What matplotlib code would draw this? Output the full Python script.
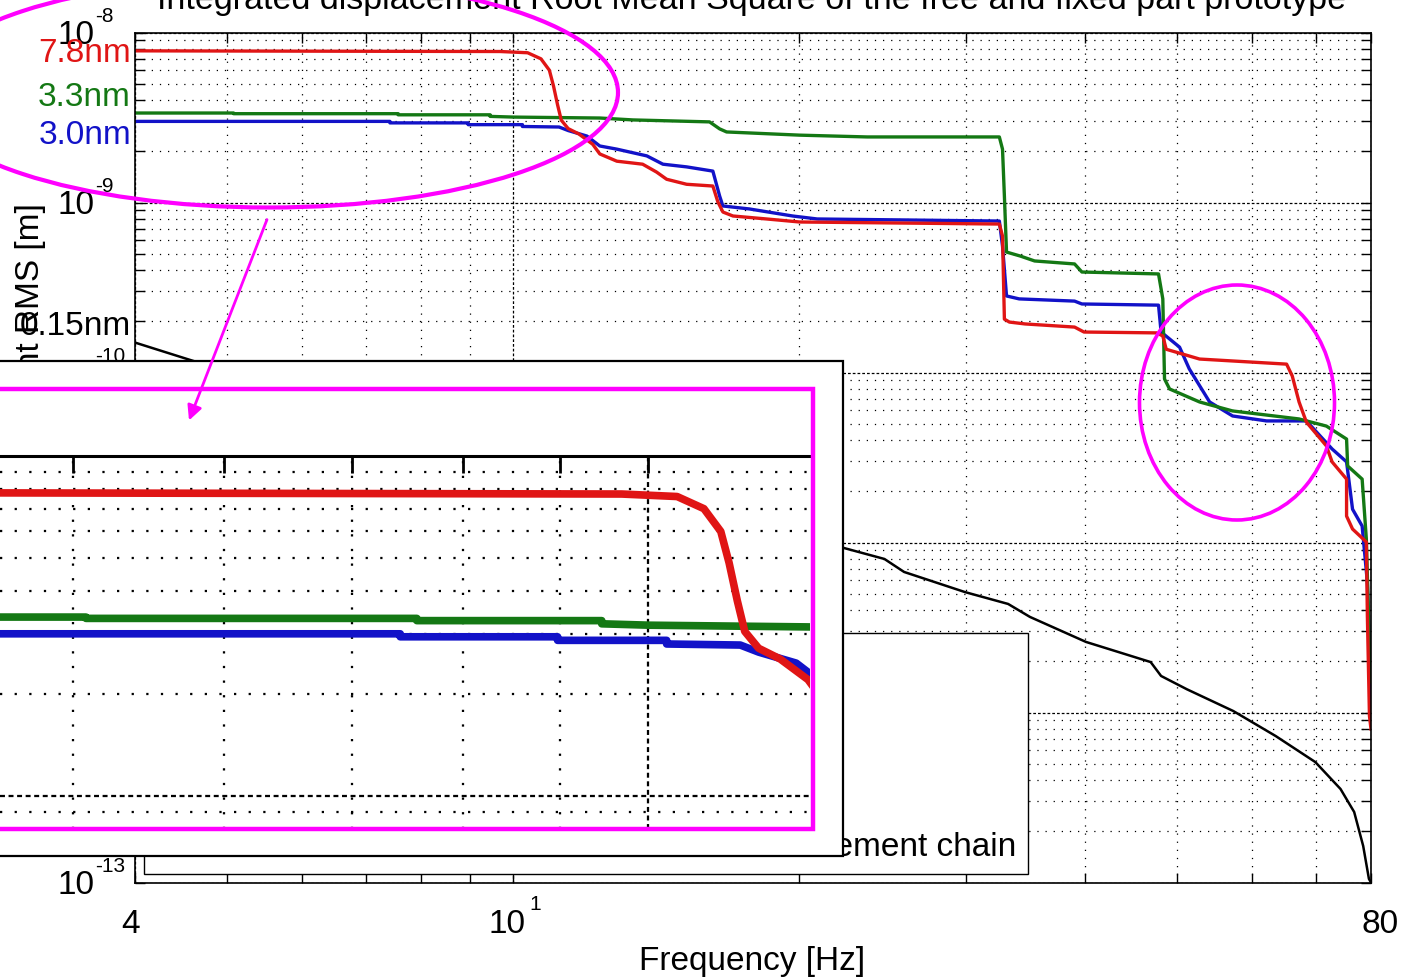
import math
import matplotlib
matplotlib.use('Agg')
import matplotlib.pyplot as plt
from matplotlib.patches import Ellipse, Rectangle, FancyArrowPatch
from matplotlib.ticker import FixedLocator, NullFormatter

plt.rcParams['font.family'] = ['Liberation Sans', 'DejaVu Sans']

W, H = 1409, 979

# integrated RMS curves (frequency in Hz, RMS in m)
red_f = [4.0, 9.69, 10.36, 10.7, 10.92, 11.03, 11.14, 11.24, 11.43, 11.73, 12.13, 12.34,
         12.86, 13.69, 14.16, 14.51, 15.23, 16.23, 16.43, 16.63, 17.04, 18.49, 20.03,
         32.5, 32.75, 32.9, 33.3, 34.6, 39.0, 39.9, 47.6, 48.3, 48.7, 52.8, 65.2, 66.1,
         67.2, 68.4, 71.8, 72.8, 75.4, 75.4, 76.5, 79.1, 79.3, 79.7, 80.0]
red_v = [7.8e-9, 7.73e-9, 7.6e-9, 7.0e-9, 6.0e-9, 4.85e-9, 3.75e-9, 3.05e-9, 2.72e-9, 2.53e-9,
         2.2e-9, 1.93e-9, 1.75e-9, 1.68e-9, 1.51e-9, 1.37e-9, 1.28e-9, 1.25e-9, 1.007e-9,
         8.79e-10, 8.33e-10, 8.0e-10, 7.68e-10, 7.47e-10, 6.35e-10, 2.06e-10, 1.98e-10,
         1.93e-10, 1.85e-10, 1.73e-10, 1.71e-10, 1.64e-10, 1.37e-10, 1.20e-10, 1.12e-10,
         9.54e-11, 6.71e-11, 5.11e-11, 3.70e-11, 2.98e-11, 2.36e-11, 1.43e-11, 1.20e-11,
         1.007e-11, 3.70e-12, 9.54e-13, 8.0e-13]

green_f = [4.0, 5.08, 5.08, 7.57, 7.57, 9.46, 9.46, 10.02, 12.34, 13.37, 16.1, 16.5, 16.78,
           20.03, 23.6, 32.5, 32.75, 32.9, 33.07, 34.2, 35.4, 39.0, 39.7, 47.8, 48.3, 48.5,
           49.1, 52.8, 57.2, 67.2, 71.8, 75.4, 75.6, 78.3, 79.1, 79.7, 80.0]
green_v = [3.36e-9, 3.36e-9, 3.33e-9, 3.33e-9, 3.28e-9, 3.28e-9, 3.21e-9, 3.18e-9, 3.14e-9,
           3.06e-9, 2.98e-9, 2.71e-9, 2.60e-9, 2.49e-9, 2.43e-9, 2.43e-9, 2.06e-9, 1.09e-9,
           5.11e-10, 4.84e-10, 4.53e-10, 4.35e-10, 3.90e-10, 3.80e-10, 2.71e-10, 9.16e-11,
           8.0e-11, 6.71e-11, 5.94e-11, 5.33e-11, 4.84e-11, 4.06e-11, 2.82e-11, 2.36e-11,
           1.05e-11, 2.36e-12, 1.51e-12]

blue_f = [4.0, 7.42, 7.42, 8.97, 8.97, 10.23, 10.23, 11.18, 11.43, 11.96, 12.34, 12.86,
          13.83, 14.38, 15.23, 16.23, 16.5, 16.63, 17.74, 19.69, 20.9, 32.5, 32.75, 33.07,
          34.1, 39.0, 39.7, 47.8, 48.1, 50.3, 51.5, 54.1, 57.2, 62.1, 68.4, 72.8, 75.4,
          76.5, 78.3, 79.3, 79.7, 80.0]
blue_v = [3.0e-9, 3.0e-9, 2.94e-9, 2.94e-9, 2.87e-9, 2.87e-9, 2.80e-9, 2.78e-9, 2.65e-9,
          2.46e-9, 2.15e-9, 2.06e-9, 1.88e-9, 1.68e-9, 1.62e-9, 1.53e-9, 1.09e-9, 9.54e-10,
          9.16e-10, 8.33e-10, 8.0e-10, 7.78e-10, 5.55e-10, 2.82e-10, 2.71e-10, 2.63e-10,
          2.53e-10, 2.49e-10, 1.73e-10, 1.41e-10, 1.05e-10, 6.71e-11, 5.55e-11, 5.19e-11,
          5.19e-11, 3.55e-11, 2.98e-11, 1.57e-11, 1.25e-11, 5.82e-12, 2.36e-12, 9.54e-13]

black_f = [4.0, 4.54, 5.96, 8.58, 12.3, 17.7, 22.1, 24.6, 25.8, 29.9, 33.2, 35.0, 40.1,
           46.9, 48.1, 51.2, 57.3, 63.5, 69.9, 74.3, 76.8, 78.5, 79.6, 80.0]
black_v = [1.5e-10, 1.20e-10, 7.47e-11, 4.06e-11, 2.15e-11, 1.28e-11, 9.41e-12, 8.0e-12,
           6.71e-12, 5.11e-12, 4.35e-12, 3.65e-12, 2.60e-12, 1.98e-12, 1.64e-12, 1.37e-12,
           1.02e-12, 7.27e-13, 5.11e-13, 3.55e-13, 2.60e-13, 1.64e-13, 1.05e-13, 1.0e-13]

legend_labels = ['Free part', 'Fixed part', 'Difference', 'Noise of the measurement chain']
rms_labels = ['7.8nm', '3.3nm', '3.0nm', '0.15nm']
x_major = [4, 10, 80]
x_major_labels = ['4', '10', '80']
x_minor = [5, 6, 7, 8, 9, 20, 30, 40, 50, 60, 70]
y_decades = [1e-13, 1e-12, 1e-11, 1e-10, 1e-9, 1e-8]
y_minor = [m * d for d in y_decades[:-1] for m in range(2, 10)]

RED, GREEN, BLUE = '#e01515', '#147814', '#1212c8'
MAG = '#ff00ff'


def fx(px):
    return px / W


def fy(py):
    return 1 - py / H


def grid_style(a, scale):
    a.grid(True, which='major', color='k', lw=0.9 * scale, ls=(0, (2.2, 1.6)))
    a.grid(True, which='minor', color='k', lw=0.9 * scale, ls=(0, (1.0, 5.5)))


fig = plt.figure(figsize=(W / 100, H / 100), dpi=100)

# ---- main axes
ax = fig.add_axes([fx(135), fy(883.5), (1371 - 135) / W, 850 / H])
ax.set_xscale('log')
ax.set_yscale('log')
ax.set_xlim(4, 80)
ax.set_ylim(1e-13, 1e-8)
l_k, = ax.plot(black_f, black_v, color='k', lw=1.8)
l_b, = ax.plot(blue_f, blue_v, color=BLUE, lw=2.4)
l_g, = ax.plot(green_f, green_v, color=GREEN, lw=2.4)
l_r, = ax.plot(red_f, red_v, color=RED, lw=2.4)

ax.xaxis.set_major_locator(FixedLocator(x_major))
ax.xaxis.set_minor_locator(FixedLocator(x_minor))
ax.yaxis.set_major_locator(FixedLocator(y_decades))
ax.yaxis.set_minor_locator(FixedLocator(y_minor))
for axis in (ax.xaxis, ax.yaxis):
    axis.set_major_formatter(NullFormatter())
    axis.set_minor_formatter(NullFormatter())
ax.tick_params(which='both', direction='in', top=True, right=True, length=7, width=1)
grid_style(ax, 1.0)
for s in ax.spines.values():
    s.set_linewidth(1.2)

# tick labels, matlab style (base and exponent)
for v, txt in zip(x_major, x_major_labels):
    dx = {4: -4, 10: -6, 80: 9}[v]
    ax.annotate(txt, xy=(v, 0), xycoords=('data', 'axes fraction'), xytext=(dx, -50),
                textcoords='offset pixels', ha='center', va='baseline', fontsize=24)
ax.annotate('1', xy=(10, 0), xycoords=('data', 'axes fraction'), xytext=(16, -27),
            textcoords='offset pixels', ha='left', va='baseline', fontsize=15)
for d in y_decades:
    ax.annotate('10', xy=(0, d), xycoords=('axes fraction', 'data'), xytext=(-77, -11),
                textcoords='offset pixels', ha='left', va='baseline', fontsize=24)
    ax.annotate('-%d' % round(-math.log10(d)), xy=(0, d), xycoords=('axes fraction', 'data'),
                xytext=(-40, 11), textcoords='offset pixels', ha='left', va='baseline',
                fontsize=15)

leg = ax.legend([l_r, l_g, l_b, l_k], legend_labels, loc='lower right',
                bbox_to_anchor=((1028 - 135) / 1236, (883.5 - 875) / 850), fontsize=24,
                frameon=True, fancybox=False, edgecolor='k', framealpha=1,
                handlelength=10.6, labelspacing=0.94, borderpad=0.35, borderaxespad=0)
leg.get_frame().set_linewidth(1.0)

# RMS value labels
for txt, c, py in zip(rms_labels, [RED, GREEN, BLUE, 'k'], [54, 98, 136, 327]):
    fig.text(fx(131), fy(py), txt, color=c, fontsize=24, ha='right', va='center', zorder=1)

fig.text(fx(752), fy(9), 'Integrated displacement Root Mean Square of the free and fixed part prototype',
         fontsize=24.5, ha='center', va='baseline', zorder=1)
fig.text(fx(752), fy(962), 'Frequency [Hz]', fontsize=24, ha='center', va='center', zorder=1)
fig.text(fx(31), fy(203), 'Integrated displacement RMS [m]', fontsize=24, rotation=90,
         ha='center', va='top', zorder=1)

# ---- white box behind the zoomed view
box = fig.add_axes([0, 0, 1, 1], zorder=2)
box.set_xlim(0, W)
box.set_ylim(H, 0)
box.axis('off')
box.add_patch(Rectangle((-10, 362), 853, 495, facecolor='white', edgecolor='k', lw=1.6))

# ---- zoomed view of the low frequency part
axi = fig.add_axes([0, fy(830), fx(810), (830 - 457) / H], zorder=3)
axi.set_xscale('log')
axi.set_yscale('log')
axi.set_xlim(4.58, 12.16)
axi.set_ylim(8.0e-10, 1e-8)
axi.plot(blue_f, blue_v, color=BLUE, lw=5.5)
axi.plot(green_f, green_v, color=GREEN, lw=5.5)
axi.plot(red_f, red_v, color=RED, lw=5.5)
axi.xaxis.set_major_locator(FixedLocator([10]))
axi.xaxis.set_minor_locator(FixedLocator(x_minor))
axi.yaxis.set_major_locator(FixedLocator(y_decades))
axi.yaxis.set_minor_locator(FixedLocator(y_minor))
for axis in (axi.xaxis, axi.yaxis):
    axis.set_major_formatter(NullFormatter())
    axis.set_minor_formatter(NullFormatter())
axi.tick_params(which='both', direction='in', top=True, bottom=False, left=False,
                right=False, length=12, width=2)
grid_style(axi, 1.8)
for k in ('left', 'right', 'bottom'):
    axi.spines[k].set_visible(False)
axi.spines['top'].set_linewidth(2.2)

# ---- magenta annotations
ov = fig.add_axes([0, 0, 1, 1], zorder=4)
ov.set_xlim(0, W)
ov.set_ylim(H, 0)
ov.axis('off')
ov.add_patch(Rectangle((-10, 390), 823, 440, fill=False, edgecolor=MAG, lw=3.2))
ov.add_patch(Ellipse((269, 93.5), 698, 230, fill=False, edgecolor=MAG, lw=3.0))
ov.add_patch(Ellipse((1237, 403.5), 195, 235, fill=False, edgecolor=MAG, lw=2.6))
ov.add_patch(FancyArrowPatch((268, 218), (188, 424), arrowstyle='-|>', mutation_scale=22,
                             color=MAG, lw=2.0))

fig.savefig('out.png', dpi=100, facecolor='white')
